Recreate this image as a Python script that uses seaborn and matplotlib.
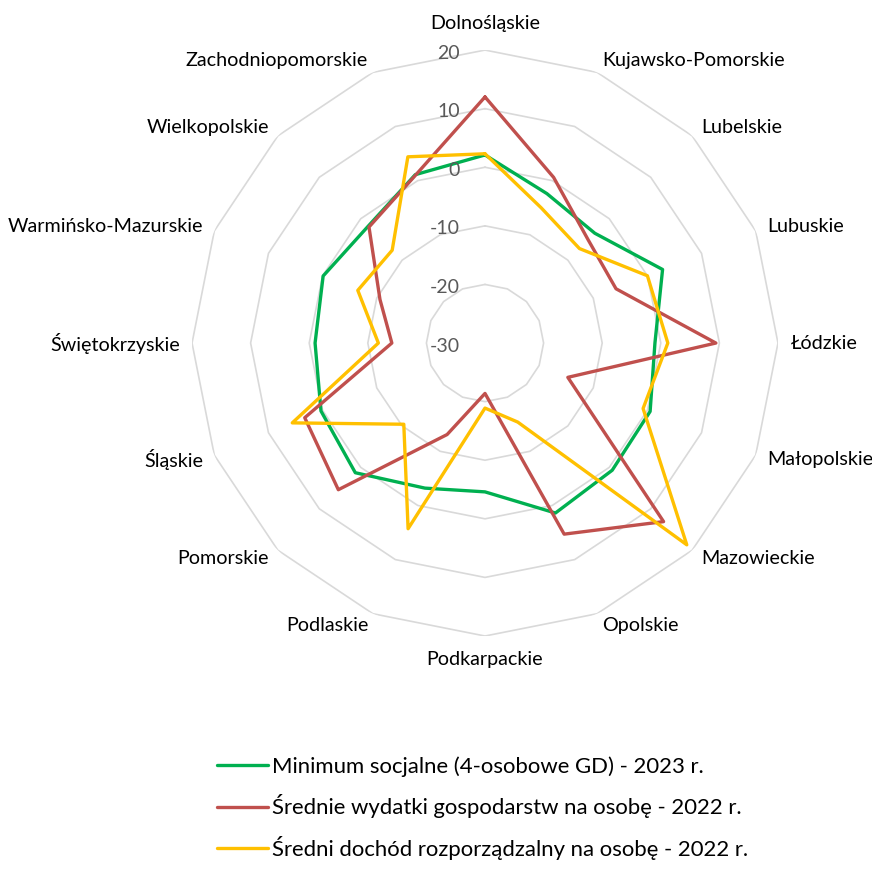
import numpy as np
import pandas as pd
import seaborn as sns
import matplotlib.pyplot as plt
from matplotlib.transforms import offset_copy

# Data
regions = ['Dolnośląskie', 'Kujawsko-Pomorskie', 'Lubelskie', 'Lubuskie', 'Łódzkie',
           'Małopolskie', 'Mazowieckie', 'Opolskie', 'Podkarpackie', 'Podlaskie',
           'Pomorskie', 'Śląskie', 'Świętokrzyskie', 'Warmińsko-Mazurskie',
           'Wielkopolskie', 'Zachodniopomorskie']
minimum_socjalne = [2.1, -2.4, -3.5, 2.8, -1.0, 0.5, 0.7, 1.4, -4.6, -3.2, 1.3, 0.3, -1.0, -0.1, -1.8, 1.1]
srednie_wydatki = [12.0, 0.6, -5.1, -5.8, 9.4, -14.7, 13.1, 5.3, -21.4, -13.1, 5.4, 3.3, -14.1, -10.6, -2.0, 1.0]
sredni_dochod = [2.3, -5.0, -7.2, 0.0, 1.2, -0.8, 18.7, -15.4, -18.9, 4.3, -10.4, 5.6, -11.8, -6.5, -7.6, 4.4]
series_names = ['Minimum socjalne (4-osobowe GD) - 2023 r.',
                'Średnie wydatki gospodarstw na osobę - 2022 r.',
                'Średni dochód rozporządzalny na osobę - 2022 r.']
series_colors = ['#00B050', '#C0504D', '#FFC000']
r_ticks = [-30, -20, -10, 0, 10, 20]

sns.set_theme(style='white')
plt.rcParams['font.family'] = ['Lato', 'DejaVu Sans']

n = len(regions)
angles = np.linspace(0, 2 * np.pi, n, endpoint=False)
closed = np.append(angles, 2 * np.pi)

# long table for seaborn (loops closed)
frames = []
for name, vals in zip(series_names, [minimum_socjalne, srednie_wydatki, sredni_dochod]):
    frames.append(pd.DataFrame({'theta': closed, 'value': vals + vals[:1], 'series': name}))
df = pd.concat(frames, ignore_index=True)

fig = plt.figure(figsize=(8.72, 8.69), dpi=100)
ax = fig.add_axes([0.2202, 0.2681, 0.672, 0.6743], projection='polar')
ax.set_theta_zero_location('N')
ax.set_theta_direction(-1)
ax.grid(False)
ax.spines['polar'].set_visible(False)
ax.set_facecolor('none')

# polygon gridlines
for v in r_ticks[1:]:
    ax.plot(closed, [v] * (n + 1), color='#D9D9D9', lw=1.2, zorder=1)

sns.lineplot(data=df, x='theta', y='value', hue='series', palette=series_colors,
             sort=False, estimator=None, lw=2.4, ax=ax, zorder=3)
ax.set_ylim(-30, 20)
ax.set_xticks([])
ax.set_yticks([])
ax.set_xlabel('')
ax.set_ylabel('')

# category labels
for ang, name in zip(angles, regions):
    s, c = np.sin(ang), np.cos(ang)
    ha = 'left' if s > 0.01 else ('right' if s < -0.01 else 'center')
    if c > 0.99:
        va, r = 'bottom', 23.0
    elif c < -0.99:
        va, r = 'top', 22.6
    else:
        va, r = 'center', 22.1
    ax.text(ang, r, name, ha=ha, va=va, fontsize=14.2, color='black', clip_on=False)

# radial tick labels
tick_tr = offset_copy(ax.transData, fig=fig, x=-25, y=-3, units='dots')
for v in r_ticks:
    ax.text(0, v, str(v), transform=tick_tr, ha='right', va='center',
            fontsize=14, color='#595959', clip_on=False)

handles, labels = ax.get_legend_handles_labels()
if ax.get_legend() is not None:
    ax.get_legend().remove()
leg = fig.legend(handles, labels, loc='upper left', bbox_to_anchor=(0.249, 0.130),
                 frameon=False, fontsize=15.9, handlelength=2.3, handletextpad=0.18,
                 labelspacing=0.8, borderpad=0, borderaxespad=0, labelcolor='black')
for h in leg.legend_handles:
    h.set_linewidth(2.4)

fig.savefig('out.png', dpi=100)
